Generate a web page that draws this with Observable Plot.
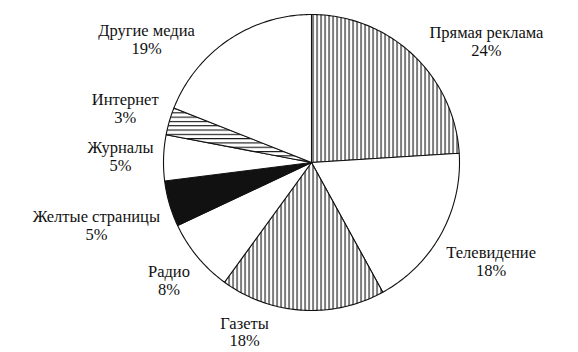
<!DOCTYPE html>
<html>
<head>
<meta charset="utf-8">
<script src="https://cdn.jsdelivr.net/npm/d3@7"></script>
<script src="https://cdn.jsdelivr.net/npm/@observablehq/plot@0.6"></script>
<style>
  html, body { margin: 0; padding: 0; background: #fff; }
</style>
</head>
<body>
<div id="chart"></div>
<script>
// Advertising spend by media channel, percent of total
const channels = ["Прямая реклама", "Телевидение", "Газеты", "Радио", "Желтые страницы", "Журналы", "Интернет", "Другие медиа"];
const shares = [24, 18, 18, 8, 5, 5, 3, 19];
const fills = ["vertical", "plain", "vertical", "plain", "solid", "plain", "horizontal", "plain"];

const W = 578, H = 352;
const R = 148;               // pie radius in pixels
const CX = 311, CY = 162;    // pie centre in pixels
const FONT = "'Liberation Serif', 'Times New Roman', serif";
const FS = 16.5;
const LH = 1.08;

// slices in unit-circle space, clockwise from 12 o'clock
const arcs = d3.pie().sort(null).value(d => d.share)(
  channels.map((name, i) => ({name, share: shares[i], fill: fills[i]}))
);

// outline of each wedge: centre -> arc -> centre
const wedgePts = [];
arcs.forEach(a => {
  const steps = Math.max(2, Math.ceil((a.endAngle - a.startAngle) / (Math.PI / 180)));
  wedgePts.push({slice: a.data.name, fill: a.data.fill, x: 0, y: 0});
  for (let s = 0; s <= steps; s++) {
    const t = a.startAngle + (a.endAngle - a.startAngle) * s / steps;
    wedgePts.push({slice: a.data.name, fill: a.data.fill, x: Math.sin(t), y: Math.cos(t)});
  }
  wedgePts.push({slice: a.data.name, fill: a.data.fill, x: 0, y: 0});
});

// label placement: outward from the slice middle, turning aside if the
// text block would leave the usable band or collide with an earlier label
const ctx = document.createElement("canvas").getContext("2d");
ctx.font = `${FS}px ${FONT}`;
const gap = 9;
const bandTop = 20, bandBottom = H - 2;
const placed = [];
function boxAt(cx, cy, w, h) {
  return {x0: cx - w / 2, x1: cx + w / 2, y0: cy - h / 2, y1: cy + h / 2};
}
function clearance(b) {
  const nx = Math.max(b.x0, Math.min(CX, b.x1)), ny = Math.max(b.y0, Math.min(CY, b.y1));
  return Math.hypot(nx - CX, ny - CY);
}
const labels = arcs.map(a => {
  const name = a.data.name, pct = `${a.data.share}%`;
  const w = Math.max(ctx.measureText(name).width, ctx.measureText(pct).width);
  const h = FS * LH * 2;
  const mid = (a.startAngle + a.endAngle) / 2;
  let best = null;
  for (let k = 0; k <= 120 && !best; k++) {
    for (const sgn of k === 0 ? [1] : [1, -1]) {
      const t = mid + sgn * k * Math.PI / 180;
      const ux = Math.sin(t), uy = -Math.cos(t);
      let d = 0, box;
      do {
        box = boxAt(CX + d * ux, CY + d * uy, w, h);
        d += 1;
      } while (clearance(box) < R + gap && d < 400);
      if (box.x0 < 2 || box.x1 > W - 2 || box.y0 < bandTop || box.y1 > bandBottom) continue;
      if (placed.some(b => b.x0 < box.x1 + 4 && box.x0 < b.x1 + 4 && b.y0 < box.y1 + 2 && box.y0 < b.y1 + 2)) continue;
      best = {cx: (box.x0 + box.x1) / 2, cy: (box.y0 + box.y1) / 2, box};
      break;
    }
  }
  if (!best) {
    const t = mid, d = R + gap + Math.max(w, h) / 2;
    const cx = CX + d * Math.sin(t), cy = CY - d * Math.cos(t);
    best = {cx, cy, box: boxAt(cx, cy, w, h)};
  }
  placed.push(best.box);
  return {text: `${name}\n${pct}`, x: (best.cx - CX) / R, y: (CY - best.cy) / R};
});

const chart = Plot.plot({
  width: W,
  height: H,
  margin: 0,
  x: {domain: [-CX / R, (W - CX) / R], axis: null},
  y: {domain: [-(H - CY) / R, CY / R], axis: null},
  color: {
    type: "ordinal",
    domain: ["vertical", "plain", "solid", "horizontal"],
    range: ["url(#hatch-v)", "#ffffff", "#111111", "url(#hatch-h)"]
  },
  style: {background: "#fff", fontFamily: FONT, fontSize: `${FS}px`},
  marks: [
    Plot.line(wedgePts, {
      x: "x", y: "y", z: "slice", fill: "fill",
      stroke: "#111", strokeWidth: 1.1, strokeLinejoin: "round", curve: "linear"
    }),
    Plot.text(labels, {
      x: "x", y: "y", text: "text",
      fontFamily: FONT, fontSize: FS, lineHeight: LH,
      textAnchor: "middle", fill: "#111"
    })
  ]
});

// hatching fills used by the patterned slices
const defs = d3.select(chart).insert("defs", ":first-child");
const vp = defs.append("pattern")
  .attr("id", "hatch-v").attr("patternUnits", "userSpaceOnUse")
  .attr("width", 4).attr("height", 4);
vp.append("rect").attr("width", 4).attr("height", 4).attr("fill", "#fff");
vp.append("rect").attr("x", 0).attr("y", 0).attr("width", 1.1).attr("height", 4).attr("fill", "#111");
const hp = defs.append("pattern")
  .attr("id", "hatch-h").attr("patternUnits", "userSpaceOnUse")
  .attr("width", 4.3).attr("height", 4.3);
hp.append("rect").attr("width", 4.3).attr("height", 4.3).attr("fill", "#fff");
hp.append("rect").attr("x", 0).attr("y", 0).attr("width", 4.3).attr("height", 1.1).attr("fill", "#111");

document.getElementById("chart").appendChild(chart);
</script>
</body>
</html>
